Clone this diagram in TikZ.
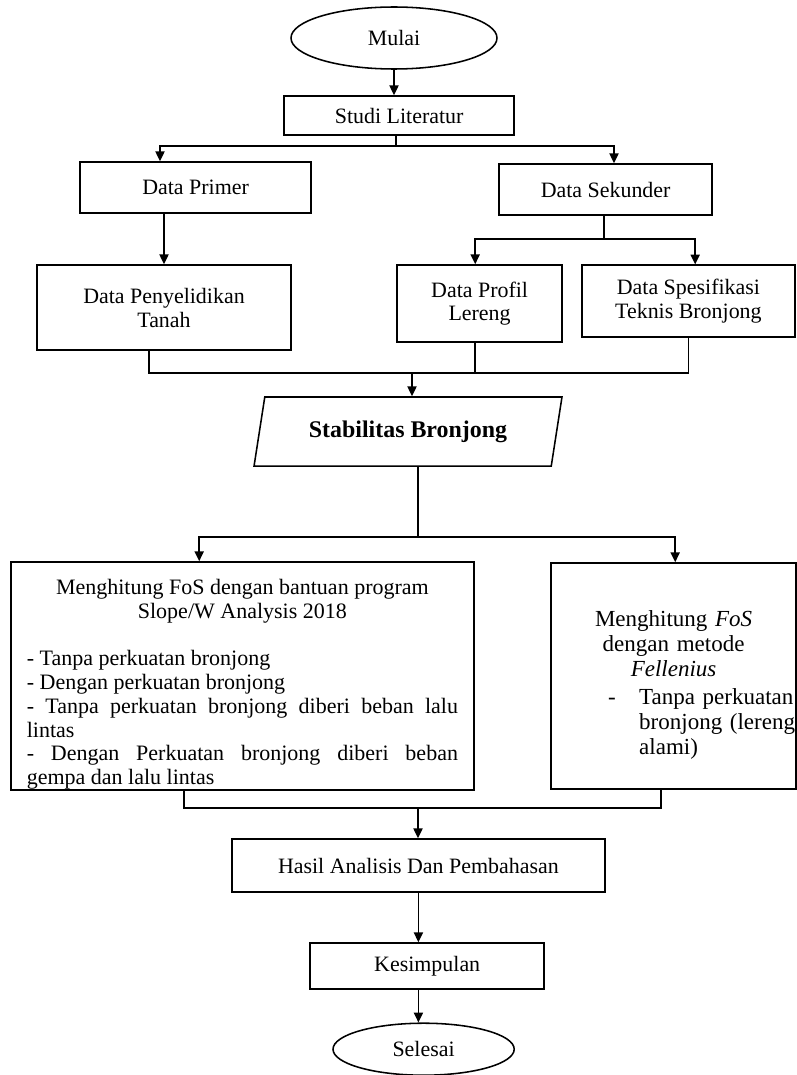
\documentclass[tikz,border=0pt]{standalone}
\usepackage{fontspec}
\setmainfont{Liberation Serif}
\usetikzlibrary{shapes.geometric, arrows.meta, positioning}
\setlength{\parindent}{0pt}
\hyphenpenalty=10000
\exhyphenpenalty=10000
\tolerance=9999
\hbadness=10000

\begin{document}
\begin{tikzpicture}[line width=1.1pt, >={Triangle[length=7pt,width=6.5pt]},
	kotak/.style={draw, inner sep=3pt, align=center, font=\fontsize{15.6}{17}\selectfont},
	oval/.style={draw, ellipse, inner sep=0pt, font=\fontsize{15.6}{17}\selectfont}]
		\useasboundingbox (0cm,0cm) rectangle (19.925cm,-26.875cm);
		\draw (9.85cm,-0.95cm) node[oval, minimum width=5.15cm, minimum height=1.55cm] (mulai){Mulai}
		(9.98cm,-2.89cm) node[kotak, minimum width=5.75cm, minimum height=0.98cm] (studi){Studi Literatur}
		(4.89cm,-4.69cm) node[kotak, minimum width=5.78cm, minimum height=1.28cm] (primer){Data Primer}
		(15.14cm,-4.74cm) node[kotak, minimum width=5.33cm, minimum height=1.28cm] (sekunder){Data Sekunder}
		(4.1cm,-7.69cm) node[kotak, minimum width=6.35cm, minimum height=2.13cm] (tanah){Data Penyelidikan\\Tanah}
		(11.99cm,-7.59cm) node[kotak, minimum width=4.13cm, minimum height=1.93cm] (profil){Data Profil\\Lereng}
		(17.21cm,-7.53cm) node[kotak, minimum width=5.33cm, minimum height=1.8cm] (spek){Data Spesifikasi\\Teknis Bronjong}
		(10.2cm,-10.79cm) node[draw, trapezium, trapezium left angle=76, trapezium right angle=104,
			trapezium stretches=true, minimum width=7.7cm, minimum height=1.73cm,
			font=\fontsize{17}{20}\selectfont\bfseries] (stabil){Stabilitas Bronjong}
		(6.06cm,-16.9cm) node[draw, inner sep=3pt, minimum width=11.58cm, minimum height=5.7cm,
			text width=10.78cm, text depth=127pt, align=justify, font=\fontsize{15.65}{16.93}\selectfont] (fos1)
			{\spaceskip=0.25em plus 0.3em\relax
			{\centering Menghitung FoS dengan bantuan program\\ Slope/W Analysis 2018\par}
			\vspace{16.93pt}
			- Tanpa perkuatan bronjong\par
			- Dengan perkuatan bronjong\par
			- Tanpa perkuatan bronjong diberi beban lalu lintas\par
			- Dengan Perkuatan bronjong diberi beban gempa dan lalu lintas}
		(16.84cm,-16.9cm) node[draw, inner sep=3pt, minimum width=6.13cm, minimum height=5.65cm,
			text width=5.9cm, text depth=82pt, align=left, font=\fontsize{16.36}{17.78}\selectfont] (fos2)
			{{\centering Menghitung \textit{FoS}\\ dengan metode\\ \textit{Fellenius}\par}
			\vspace{2pt}
			\hspace*{1.31cm}\makebox[0.78cm][l]{-}\makebox[0pt][l]{\begin{tabular}[t]{@{}l@{}}Tanpa perkuatan\\ bronjong (lereng\\ alami)\end{tabular}}}
		(10.46cm,-21.64cm) node[kotak, minimum width=9.33cm, minimum height=1.33cm] (hasil){Hasil Analisis Dan Pembahasan}
		(10.68cm,-24.15cm) node[kotak, minimum width=5.85cm, minimum height=1.15cm] (simpul){Kesimpulan}
		(10.59cm,-26.23cm) node[oval, minimum width=4.53cm, minimum height=1.3cm] (selesai){Selesai};

		\coordinate (bagi1) at (9.9cm,-3.65cm);
		\coordinate (bagi2) at (15.1cm,-5.98cm);
		\coordinate (gabung1) at (10.3cm,-9.33cm);
		\coordinate (bagi3) at (10.45cm,-13.43cm);
		\coordinate (gabung2) at (10.45cm,-20.2cm);

		\draw[->] (mulai.south) -- (mulai.south |- studi.north);
		\draw (bagi1 |- studi.south) -- (bagi1);
		\draw[->] (bagi1) -| ([xshift=-0.89cm]primer.north);
		\draw[->] (bagi1) -| ([xshift=0.21cm]sekunder.north);
		\draw[->] (tanah.north |- primer.south) -- (tanah.north);
		\draw (bagi2 |- sekunder.south) -- (bagi2);
		\draw[->] (bagi2) -| ([xshift=-0.11cm]profil.north);
		\draw[->] (bagi2) -| ([xshift=0.17cm]spek.north);
		\draw ([xshift=-0.37cm]tanah.south) |- (gabung1);
		\draw ([xshift=-0.11cm]profil.south) |- (gabung1);
		\draw (spek.south) |- (gabung1);
		\draw[->] (gabung1) -- (gabung1 |- stabil.north);
		\draw (bagi3 |- stabil.south) -- (bagi3);
		\draw[->] (bagi3) -| ([xshift=-1.08cm]fos1.north);
		\draw[->] (bagi3) -| ([xshift=0.04cm]fos2.north);
		\draw ([xshift=-1.46cm]fos1.south) |- (gabung2);
		\draw ([xshift=-0.31cm]fos2.south) |- (gabung2);
		\draw[->] (gabung2) -- (gabung2 |- hasil.north);
		\draw[->] (hasil.south) -- (hasil.south |- simpul.north);
		\draw[->] (hasil.south |- simpul.south) -- (hasil.south |- selesai.north);
	\end{tikzpicture}
\end{document}
